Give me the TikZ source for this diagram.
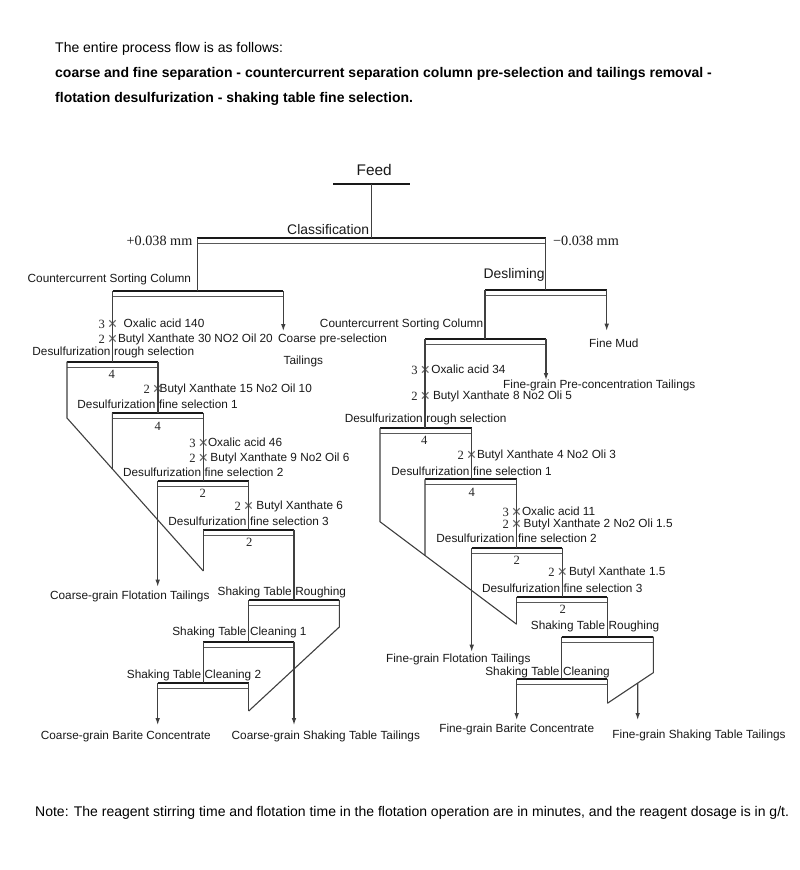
\documentclass[tikz,border=0pt]{standalone}
\usepackage{fontspec}
\setmainfont{Liberation Sans}
\newfontfamily\tnr{Liberation Serif}
\newfontfamily\djv{DejaVu Sans}
\usetikzlibrary{arrows.meta,calc}
\tikzset{
  lab/.style={font=\fontsize{11.8}{13}\selectfont, inner sep=0pt, text height=8.5pt, text depth=2.5pt, text=black!90},
  big/.style={font=\fontsize{13.9}{15}\selectfont, inner sep=0pt, text=black!90},
  feedf/.style={font=\fontsize{15.4}{17}\selectfont, inner sep=0pt, text=black!90},
  hdr/.style={font=\fontsize{14}{16}\selectfont, inner sep=0pt, text height=10pt, text depth=3pt, text=black},
  hdrb/.style={hdr, font=\fontsize{14}{16}\selectfont\bfseries},
  numf/.style={font=\tnr\fontsize{12.6}{14}\selectfont, inner sep=0pt, text height=8.5pt, text depth=0pt, text=black!85},
  mmf/.style={font=\tnr\fontsize{14.2}{16}\selectfont, inner sep=0pt, text=black!90},
  crs/.style={font=\djv\fontsize{12.5}{13}\selectfont, inner sep=0pt, text=black!60},
  bartop/.style={line width=2.2pt, black!90},
  barbot/.style={line width=1.1pt, black!65},
  ln/.style={line width=1.1pt, black!75},
  arr/.style={ln, -{Latex[length=7pt,width=4.6pt]}},
}
\newcommand\cellbar[4]{%
  \coordinate (#1-l) at (#2,#4);
  \coordinate (#1-r) at (#3,#4);
  \coordinate (#1-bl) at (#2,{#4+5.5});
  \coordinate (#1-br) at (#3,{#4+5.5});
  \draw[bartop] (#1-l) -- (#1-r);
  \draw[barbot] (#1-bl) -- (#1-br);
}
\newcommand\splitlab[5]{%
  \node[lab, anchor=east] (#1-tl) at ({#2-2},#3) {#4};
  \node[lab, anchor=west] (#1-tr) at ({#2+1.2},#3) {#5};
}
\newcommand\reag[6]{%
  \node[numf, anchor=east] (#1n) at ({#2-7.5},#3) {#4};
  \node[crs] (#1x) at (#2,#3) {✕};
  \node[lab, anchor=west] (#1t) at ({#5-0.5},#3) {#6};
}
\begin{document}
\begin{tikzpicture}[x=1pt,y=-1pt]
\fill[white] (0,0) rectangle (800,870);
\useasboundingbox (0,0) rectangle (800,870);

% header
\node[hdr, anchor=west] (h1) at (55,49) {The entire process flow is as follows:};
\node[hdrb, anchor=west] (h2) at (55,74) {coarse and fine separation - countercurrent separation column pre-selection and tailings removal -};
\node[hdrb, anchor=west] (h3) at (55,99) {flotation desulfurization - shaking table fine selection.};
\node[hdr, anchor=west] (note) at (35,813) {Note: The reagent stirring time and flotation time in the flotation operation are in minutes, and the reagent dosage is in g/t.};

% feed and classification
\node[feedf, anchor=base] (feed) at (374.2,175.5) {Feed};
\coordinate (fdL) at (333,184); \coordinate (fdR) at (410,184);
\draw[bartop] (fdL) -- (fdR);
\coordinate (fdM) at (371.7,184);
\cellbar{cls}{197.3}{545.7}{238.3}
\draw[ln] (fdM) -- (fdM |- cls-l);
\node[big, anchor=base east] (clsT) at (369.3,234) {Classification};
\node[mmf, anchor=base east] (plus) at (192.5,245.7) {+0.038 mm};
\node[mmf, anchor=base west] (minus) at (553,245.7) {−0.038 mm};

% coarse countercurrent column
\cellbar{ccs}{112.7}{283.3}{291}
\draw[ln] (cls-l) -- (cls-l |- ccs-l);
\node[lab, anchor=east] (ccsT) at (191.2,279) {Countercurrent Sorting Column};
% desliming
\cellbar{des}{485}{606.7}{290}
\draw[ln] (cls-r) -- (cls-r |- des-l);
\node[big, anchor=base east] (desT) at (544.8,278) {Desliming};

% coarse pre-selection tailings
\coordinate (ctt) at (283.3,331);
\draw[arr] (ccs-r) -- (ctt);
\node[lab, anchor=east] (ctt1) at (483.5,324) {Countercurrent Sorting Column};
\node[lab, anchor=west] (ctt2) at (278,339.3) {Coarse pre-selection};
\node[lab] (ctt3) at (303.3,361) {Tailings};

% coarse flotation
\reag{cr1}{112.7}{324}{3}{124}{Oxalic acid 140}
\reag{cr2}{112.7}{339.3}{2}{118.3}{Butyl Xanthate 30 NO2 Oil 20}
\splitlab{cr}{112.7}{352.7}{Desulfurization}{rough selection}
\cellbar{cr}{67}{158}{361.7}
\draw[ln] (ccs-l) -- (ccs-l |- cr-l);
\node[numf] (crn) at (111.7,374) {4};

\reag{cf1a}{157.7}{389.3}{2}{160}{Butyl Xanthate 15 No2 Oil 10}
\splitlab{cf1}{157.7}{405.3}{Desulfurization}{fine selection 1}
\cellbar{cf1}{112.3}{203.3}{412.7}
\draw[ln] (cr-r) -- (cr-r |- cf1-l);
\node[numf] (cf1n) at (157.7,426) {4};

\reag{cf2a}{203.3}{443.3}{3}{208.3}{Oxalic acid 46}
\reag{cf2b}{203.3}{458.3}{2}{210.7}{Butyl Xanthate 9 No2 Oil 6}
\splitlab{cf2}{203.3}{473.3}{Desulfurization}{fine selection 2}
\cellbar{cf2}{157.7}{248.7}{481}
\draw[ln] (cf1-r) -- (cf1-r |- cf2-l);
\node[numf] (cf2n) at (202.7,493.3) {2};

\reag{cf3a}{248.7}{506}{2}{256.7}{Butyl Xanthate 6}
\splitlab{cf3}{248.7}{522.7}{Desulfurization}{fine selection 3}
\cellbar{cf3}{203.3}{294}{530}
\draw[ln] (cf2-r) -- (cf2-r |- cf3-l);
\node[numf] (cf3n) at (249.3,542.7) {2};

% coarse flotation tailings
\coordinate (crk) at (67,418); \coordinate (cre) at (203.3,571);
\draw[ln] (cr-l) -- (crk) -- (cre);
\draw[ln] (cf1-l) -- (intersection of crk--cre and cf1-l--cf1-bl);
\draw[ln] (cf3-l) -- (cre);
\coordinate (cftT) at (157.7,586.7);
\draw[arr] (cf2-l) -- (cftT);
\node[lab] (cftL) at (129.8,596) {Coarse-grain Flotation Tailings};

% coarse shaking tables
\splitlab{csr}{294}{592.7}{Shaking Table}{Roughing}
\cellbar{csr}{248.7}{339.3}{600}
\draw[ln] (cf3-r) -- (cf3-r |- csr-l);
\splitlab{cc1}{248.7}{632.3}{Shaking Table}{Cleaning 1}
\cellbar{cc1}{203.3}{294}{641.7}
\draw[ln] (csr-l) -- (csr-l |- cc1-l);
\splitlab{cc2}{203.3}{675.7}{Shaking Table}{Cleaning 2}
\cellbar{cc2}{157.7}{248.7}{683.3}
\draw[ln] (cc1-l) -- (cc1-l |- cc2-l);
\coordinate (csrk) at (339.3,627); \coordinate (csre) at (248.7,711);
\draw[ln] (csr-r) -- (csrk) -- (csre);
\draw[ln] (cc2-r) -- (csre);
\coordinate (cbcT) at (157.7,725); \draw[arr] (cc2-l) -- (cbcT);
\node[lab] (cbcL) at (125.8,736) {Coarse-grain Barite Concentrate};
\coordinate (cstT) at (294,725); \draw[arr] (cc1-r) -- (cstT);
\node[lab, anchor=west] (cstL) at (231.5,736) {Coarse-grain Shaking Table Tailings};

% fine side
\coordinate (fmT) at (606.7,330.7); \draw[arr] (des-r) -- (fmT);
\node[lab] (fmL) at (613.8,344) {Fine Mud};
\cellbar{fcs}{425}{546}{339}
\draw[ln] (des-l) -- (des-l |- fcs-l);
\coordinate (fptT) at (546,380); \draw[arr] (fcs-r) -- (fptT);
\node[lab, anchor=west] (fptL) at (503,385) {Fine-grain Pre-concentration Tailings};

\reag{fr1}{425.3}{370}{3}{431.7}{Oxalic acid 34}
\reag{fr2}{425.3}{396}{2}{433.3}{Butyl Xanthate 8 No2 Oli 5}
\splitlab{fr}{425}{419}{Desulfurization}{rough selection}
\cellbar{fr}{380}{471.7}{428}
\draw[ln] (fcs-l) -- (fcs-l |- fr-l);
\node[numf] (frn) at (424.3,440.7) {4};

\reag{ff1a}{471.7}{455.7}{2}{477.3}{Butyl Xanthate 4 No2 Oli 3}
\splitlab{ff1}{471.7}{472.3}{Desulfurization}{fine selection 1}
\cellbar{ff1}{425}{516.7}{479.3}
\draw[ln] (fr-r) -- (fr-r |- ff1-l);
\node[numf] (ff1n) at (471.7,492.7) {4};

\reag{ff2a}{516.7}{512.3}{3}{522.3}{Oxalic acid 11}
\reag{ff2b}{516.7}{524}{2}{524}{Butyl Xanthate 2 No2 Oli 1.5}
\splitlab{ff2}{516.7}{539.3}{Desulfurization}{fine selection 2}
\cellbar{ff2}{471.7}{562.3}{548}
\draw[ln] (ff1-r) -- (ff1-r |- ff2-l);
\node[numf] (ff2n) at (516.7,560.7) {2};

\reag{ff3a}{562.3}{572.7}{2}{569.3}{Butyl Xanthate 1.5}
\splitlab{ff3}{562.3}{589}{Desulfurization}{fine selection 3}
\cellbar{ff3}{516.7}{607.3}{597}
\draw[ln] (ff2-r) -- (ff2-r |- ff3-l);
\node[numf] (ff3n) at (562.7,609.3) {2};

% fine flotation tailings
\coordinate (frk) at (380,521.7); \coordinate (fre) at (516.7,624.3);
\draw[ln] (fr-l) -- (frk) -- (fre);
\draw[ln] (ff1-l) -- (intersection of frk--fre and ff1-l--ff1-bl);
\draw[ln] (ff3-l) -- (fre);
\coordinate (fftT) at (471.7,651.7); \draw[arr] (ff2-l) -- (fftT);
\node[lab] (fftL) at (458.3,659.3) {Fine-grain Flotation Tailings};

% fine shaking tables
\splitlab{fsr}{607.3}{626.7}{Shaking Table}{Roughing}
\cellbar{fsr}{561.7}{653.3}{636.7}
\draw[ln] (ff3-r) -- (ff3-r |- fsr-l);
\splitlab{fsc}{561.7}{672.3}{Shaking Table}{Cleaning}
\cellbar{fsc}{516.7}{607.3}{679}
\draw[ln] (fsr-l) -- (fsr-l |- fsc-l);
\coordinate (fsrk) at (653.3,672.7); \coordinate (fsre) at (607.3,703.3);
\draw[ln] (fsr-r) -- (fsrk) -- (fsre);
\draw[ln] (fsc-r) -- (fsre);
\coordinate (fbcT) at (516.7,720); \draw[arr] (fsc-l) -- (fbcT);
\node[lab] (fbcL) at (516.7,729.3) {Fine-grain Barite Concentrate};
\coordinate (fstA) at (637.7,600); \coordinate (fstT) at (637.7,720);
\coordinate (fstS) at (intersection of fsrk--fsre and fstA--fstT);
\draw[arr] (fstS) -- (fstT);
\node[lab] (fstL) at (699,735) {Fine-grain Shaking Table Tailings};
\end{tikzpicture}
\end{document}
